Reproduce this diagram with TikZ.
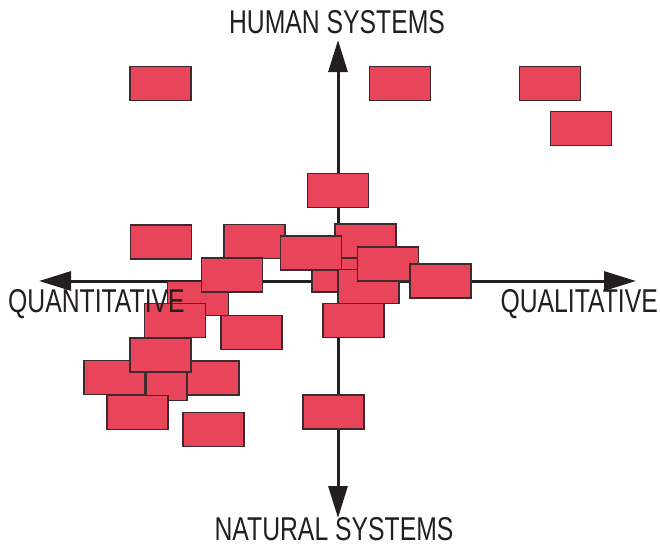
\documentclass[tikz,border=0pt]{standalone}
\usepackage{fontspec}
\usepackage{tikz}
\usetikzlibrary{arrows.meta}
\newfontfamily\axisfont[FakeStretch=0.75]{Liberation Sans}
\definecolor{cardred}{RGB}{232,68,90}
\definecolor{cardedge}{RGB}{62,42,46}
\definecolor{ink}{RGB}{35,31,32}
\tikzset{
  card/.style={draw=cardedge, fill=cardred, line width=1.3pt, minimum width=61pt, minimum height=34pt, inner sep=0pt},
  axis/.style={ink, line width=3pt, {Triangle[length=32pt,width=19pt]}-{Triangle[length=32pt,width=19pt]}},
  axislabel/.style={ink, inner sep=0pt, font=\axisfont\fontsize{33}{36}\selectfont}
}
\begin{document}
\begin{tikzpicture}[x=1pt, y=-1pt]
\useasboundingbox (0,0) rectangle (660,546);

\coordinate (hum) at (338,40);
\coordinate (nat) at (338,518);
\coordinate (quan) at (39,281);
\coordinate (qual) at (636,281);
\draw[axis] (nat) -- (hum);
\draw[axis] (quan) -- (qual);

\node[card] (c1) at (160.5,83.5) {};
\node[card] (c2) at (400,83.5) {};
\node[card] (c3) at (550,83.5) {};
\node[card] (c4) at (581,128.5) {};
\node[card] (c5) at (338,190.5) {};
\node[card] (c6) at (161,242) {};
\node[card] (c7) at (254.5,241.5) {};
\node[card] (c9) at (365.5,241) {};
\node[card] (c12) at (342.5,275) {};
\node[card] (c8) at (311,253) {};
\node[card] (c14) at (368.5,286.5) {};
\node[card] (c13) at (388,264) {};
\node[card] (c15) at (440.5,281) {};
\node[card] (c16) at (353.5,320.5) {};
\node[card] (c11) at (198,298.5) {};
\node[card] (c10) at (232,275) {};
\node[card] (c18) at (175,320.5) {};
\node[card] (c17) at (251.5,332.5) {};
\node[card] (c22) at (208.5,378) {};
\node[card] (c20) at (114.5,377.5) {};
\node[card, minimum width=41pt] (c21) at (166.5,383.5) {};
\node[card] (c19) at (160.5,355) {};
\node[card] (c23) at (137.5,412.5) {};
\node[card] (c24) at (213.5,429.5) {};
\node[card] (c25) at (333.5,412) {};

\node[axislabel] (humlab) at (337,22) {HUMAN SYSTEMS};
\node[axislabel] (natlab) at (334,529) {NATURAL SYSTEMS};
\node[axislabel, anchor=west] (quanlab) at (8,304) {QUANTITATIVE};
\node[axislabel, anchor=east] (quallab) at (658,304) {QUALITATIVE};
\end{tikzpicture}
\end{document}
